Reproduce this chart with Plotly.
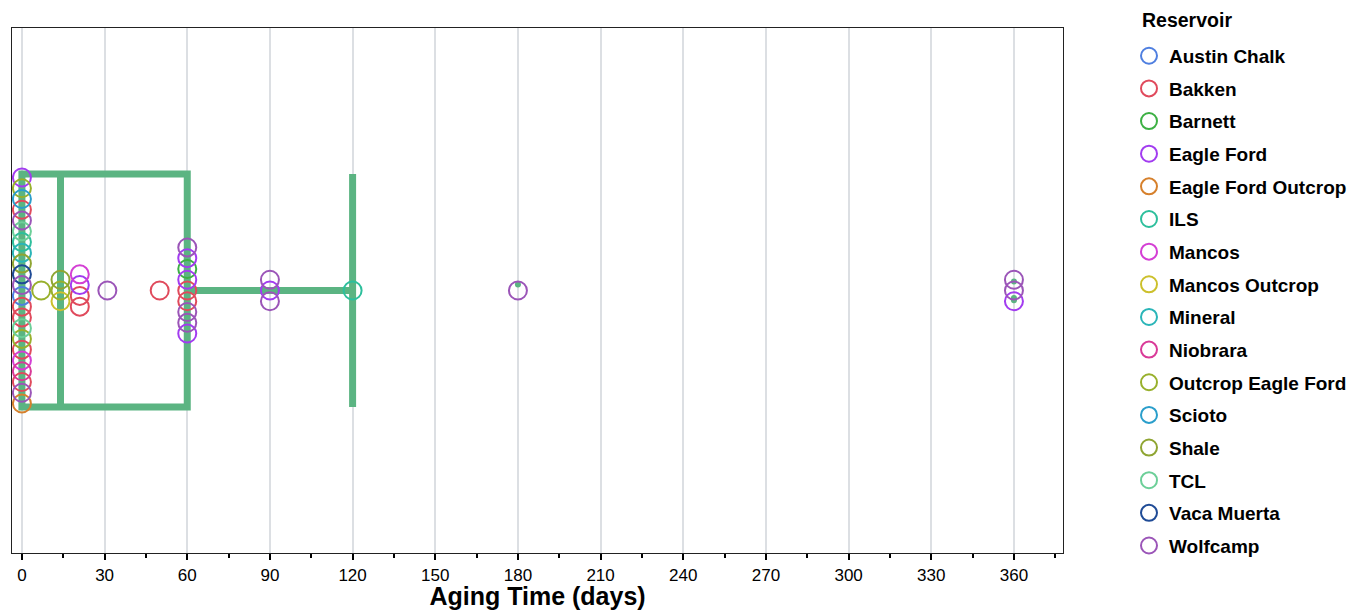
import plotly.graph_objects as go

# ---------------- data ----------------
reservoirs = ["Austin Chalk", "Bakken", "Barnett", "Eagle Ford", "Eagle Ford Outcrop",
              "ILS", "Mancos", "Mancos Outcrop", "Mineral", "Niobrara",
              "Outcrop Eagle Ford", "Scioto", "Shale", "TCL", "Vaca Muerta", "Wolfcamp"]
reservoir_colors = ["#4f7fe0", "#e04a5c", "#3cb043", "#a23cf0", "#d6802c",
                    "#2dbf9c", "#d43fd4", "#ccc02c", "#2ab5b8", "#d93a98",
                    "#98b02c", "#2a9ecb", "#8fa532", "#6ccf98", "#1f4b96", "#9b55b8"]

aging_days = [0] * 22 + [7] + [14] * 3 + [21] * 4 + [31] + [50] + [60] * 9 + [90] * 3 + [120] + [180] + [360] * 3
sample_reservoir = [
    # 0 days
    "Eagle Ford", "Outcrop Eagle Ford", "Scioto", "Bakken", "Wolfcamp", "TCL", "ILS", "Mineral",
    "Shale", "Vaca Muerta", "Wolfcamp", "Austin Chalk", "Bakken", "Bakken", "TCL",
    "Outcrop Eagle Ford", "Bakken", "Mancos", "Niobrara", "Bakken", "Wolfcamp", "Eagle Ford Outcrop",
    # 7 days
    "Outcrop Eagle Ford",
    # 14 days
    "Shale", "Outcrop Eagle Ford", "Mancos Outcrop",
    # 21 days
    "Mancos", "Eagle Ford", "Bakken", "Bakken",
    # 31 days
    "Wolfcamp",
    # 50 days
    "Bakken",
    # 60 days
    "Wolfcamp", "Eagle Ford", "Barnett", "Eagle Ford", "Bakken", "Bakken", "Wolfcamp", "Wolfcamp", "Eagle Ford",
    # 90 days
    "Wolfcamp", "Eagle Ford", "Wolfcamp",
    # 120 days
    "ILS",
    # 180 days
    "Wolfcamp",
    # 360 days
    "Wolfcamp", "Wolfcamp", "Eagle Ford",
]
x_ticks = list(range(0, 361, 30))
legend_title = "Reservoir"
x_title = "Aging Time (days)"

# ---------------- style ----------------
FONT = "Liberation Sans"
BOX_GREEN = "#5bb482"
SWARM_STEP = 0.041

# beeswarm offsets: stack samples sharing an aging time around the centre line
groups = {}
for i, d in enumerate(aging_days):
    groups.setdefault(d, []).append(i)
offsets = [0.0] * len(aging_days)
for d, idx in groups.items():
    n = len(idx)
    for k, i in enumerate(idx):
        offsets[i] = ((n - 1) / 2 - k) * SWARM_STEP

fig = go.Figure()

fig.add_trace(go.Box(
    x=aging_days, y0=0, orientation="h", width=0.888,
    boxpoints="outliers", jitter=0.1, pointpos=0, whiskerwidth=1,
    line=dict(color=BOX_GREEN, width=7), fillcolor="rgba(0,0,0,0)",
    marker=dict(color=BOX_GREEN, size=6), showlegend=False, hoverinfo="skip",
))

for name, col in zip(reservoirs, reservoir_colors):
    xs = [aging_days[i] for i in range(len(aging_days)) if sample_reservoir[i] == name]
    ys = [offsets[i] for i in range(len(aging_days)) if sample_reservoir[i] == name]
    fig.add_trace(go.Scatter(
        x=xs, y=ys, mode="markers", name=name, legendgroup=name,
        marker=dict(symbol="circle-open", size=18, color=col, line=dict(width=2, color=col)),
    ))

fig.add_annotation(
    text=legend_title, xref="paper", yref="paper", x=1.0733, y=1.0152,
    xanchor="left", yanchor="middle", showarrow=False,
    font=dict(size=19.5, weight="bold", family=FONT, color="black"),
)

fig.update_layout(
    width=1349, height=602,
    margin=dict(l=4, r=294, t=20, b=57, autoexpand=False),
    plot_bgcolor="white", paper_bgcolor="white",
    font=dict(family=FONT, color="black"),
    showlegend=True,
    legend=dict(
        font=dict(size=19, weight="bold", family=FONT),
        x=1.0628, xanchor="left", yref="container", y=0.952, yanchor="top",
        maxheight=602, tracegroupgap=4.95, bgcolor="rgba(0,0,0,0)",
    ),
    xaxis=dict(
        range=[-3.6, 377.8], tickvals=x_ticks, ticks="outside", ticklen=6, tickwidth=2,
        tickcolor="black", tickfont=dict(size=17, family=FONT),
        minor=dict(dtick=15, tick0=0, ticks="outside", ticklen=4, tickwidth=2, tickcolor="black", showgrid=False),
        showgrid=True, gridcolor="#dcdfe3", gridwidth=2,
        showline=True, linecolor="#222", linewidth=1.3, mirror=True, zeroline=False,
        title=dict(text=x_title, font=dict(size=25, weight="bold", family=FONT), standoff=7),
    ),
    yaxis=dict(
        range=[-1, 1], showticklabels=False, ticks="", showgrid=False, zeroline=False,
        showline=True, linecolor="#222", linewidth=1.3, mirror=True,
    ),
)

fig.write_html("out.html")
